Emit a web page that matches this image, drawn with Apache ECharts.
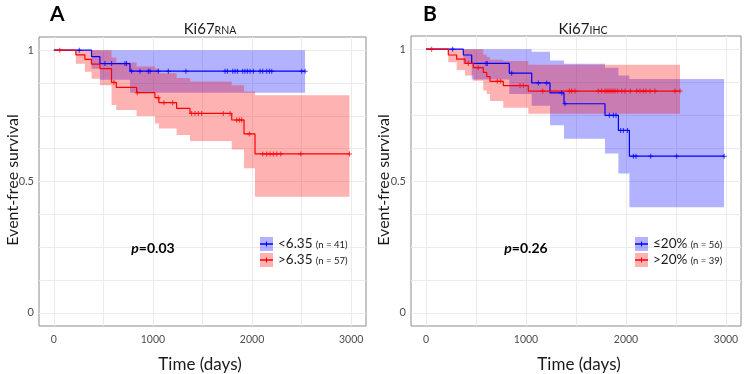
<!DOCTYPE html>
<html>
<head>
<meta charset="utf-8">
<script src="https://cdn.jsdelivr.net/npm/echarts@6/dist/echarts.min.js"></script>
<style>
html,body{margin:0;padding:0;background:#fff}
#chart{width:749px;height:374px}
</style>
</head>
<body>
<div id="chart"></div>
<script>
const FONT = 'Lato, "Liberation Sans", sans-serif';
const BLUE = '#0000ff', RED = '#ff0000';
const BLUE_BAND = 'rgba(0,0,255,0.3)', RED_BAND = 'rgba(255,0,0,0.3)';

// panel A - Ki67 RNA, <6.35 (n = 41)
const aLowTime  = [0, 380, 465, 768, 2535];
const aLowSurv  = [1, 0.975, 0.949, 0.920, 0.920];
const aLowLower = [1, 0.929, 0.887, 0.838, 0.838];
const aLowUpper = [1, 1, 1, 1, 1];
const aLowCensor = [256, 515, 583, 717, 734, 785, 869, 953, 970, 1054, 1155, 1333, 1727, 1751, 1805,
  1828, 1852, 1906, 1929, 1953, 1980, 2013, 2081, 2108, 2148, 2175, 2199, 2502, 2535];

// panel A - Ki67 RNA, >6.35 (n = 57)
const aHighTime  = [0, 222, 313, 380, 465, 582, 630, 835, 1020, 1060, 1239, 1374, 1795, 1919, 2030, 2983];
const aHighSurv  = [1, 0.982, 0.965, 0.947, 0.930, 0.877, 0.858, 0.838, 0.819, 0.800, 0.778, 0.759, 0.734, 0.681, 0.605, 0.605];
const aHighLower = [1, 0.948, 0.918, 0.891, 0.866, 0.791, 0.772, 0.749, 0.721, 0.702, 0.677, 0.654, 0.622, 0.550, 0.442, 0.442];
const aHighUpper = [1, 1, 1, 1, 1, 0.972, 0.953, 0.938, 0.930, 0.912, 0.894, 0.881, 0.866, 0.843, 0.828, 0.828];
const aHighCensor = [60, 606, 842, 1054, 1111, 1199, 1391, 1424, 1458, 1492, 1710, 1778, 1845, 1872, 1896,
  1973, 2108, 2148, 2182, 2215, 2249, 2290, 2492, 2983];

// panel B - Ki67 IHC, <=20% (n = 56)
const bLowTime  = [0, 373, 457, 833, 1057, 1240, 1380, 1790, 1924, 2034, 2981];
const bLowSurv  = [1, 0.978, 0.946, 0.909, 0.872, 0.834, 0.793, 0.749, 0.692, 0.594, 0.594];
const bLowLower = [1, 0.945, 0.885, 0.830, 0.785, 0.711, 0.660, 0.604, 0.528, 0.400, 0.400];
const bLowUpper = [1, 1, 1, 1, 0.99, 0.957, 0.945, 0.930, 0.900, 0.887, 0.887];
const bLowCensor = [267, 600, 613, 857, 1124, 1207, 1357, 1390, 1834, 1874, 1900, 1947, 1974, 2014,
  2074, 2100, 2247, 2507, 2981];

// panel B - Ki67 IHC, >20% (n = 39)
const bHighTime  = [0, 223, 307, 390, 473, 573, 607, 640, 773, 1023, 2540];
const bHighSurv  = [1, 0.978, 0.962, 0.946, 0.930, 0.912, 0.896, 0.878, 0.862, 0.841, 0.841];
const bHighLower = [1, 0.950, 0.921, 0.900, 0.880, 0.843, 0.830, 0.803, 0.778, 0.755, 0.755];
const bHighUpper = [1, 1, 1, 1, 1, 0.980, 0.970, 0.960, 0.955, 0.941, 0.941];
const bHighCensor = [57, 423, 523, 713, 747, 940, 973, 1167, 1433, 1457, 1490, 1723, 1757, 1790, 1810,
  1830, 1850, 1870, 1890, 1917, 1957, 1990, 2043, 2107, 2140, 2173, 2200, 2240, 2290, 2490, 2540];

const xTicks = [0, 1000, 2000, 3000];
const xGrid = [0, 500, 1000, 1500, 2000, 2500, 3000];
const yTicks = [0, 0.5, 1];
const yGrid = [0, 0.125, 0.25, 0.375, 0.5, 0.625, 0.75, 0.875, 1];

const PLUS = 'path://M2,0H3V2H5V3H3V5H2V3H0V2H2Z';

function survAt(times, surv, t) {
  let s = surv[0];
  for (let i = 0; i < times.length; i++) {
    if (times[i] <= t) s = surv[i];
  }
  return s;
}

// confidence band as one stepped polygon, drawn through the axis scales
function bandSeries(p, time, lower, upper, band) {
  return {
    type: 'custom', xAxisIndex: p, yAxisIndex: p, silent: true, z: 1, animation: false,
    data: time.map((t, i) => [t, lower[i], upper[i]]),
    encode: {x: 0, y: [1, 2]},
    renderItem: function (params, api) {
      if (params.dataIndex !== 0) return null;
      const top = [], bottom = [];
      for (let i = 0; i < time.length; i++) {
        const t1 = i + 1 < time.length ? time[i + 1] : time[i];
        top.push(api.coord([time[i], upper[i]]), api.coord([t1, upper[i]]));
        bottom.push(api.coord([time[i], lower[i]]), api.coord([t1, lower[i]]));
      }
      return {type: 'polygon', shape: {points: top.concat(bottom.reverse())}, style: {fill: band}};
    }
  };
}

function kmSeries(p, time, surv, censor, color) {
  const common = {xAxisIndex: p, yAxisIndex: p, silent: true, animation: false};
  return [
    Object.assign({
      type: 'line', step: 'end', symbol: 'none', z: 3,
      lineStyle: {color: color, width: 1.2},
      data: time.map((t, i) => [t, surv[i]])
    }, common),
    Object.assign({
      type: 'scatter', symbol: PLUS, symbolSize: 5, z: 4,
      itemStyle: {color: color},
      data: censor.map(t => [t, survAt(time, surv, t)])
    }, common)
  ];
}

const grids = [
  {left: 39, top: 37, width: 327, height: 289},
  {left: 411, top: 36, width: 330, height: 290}
];

function xAxis(i) {
  return {
    type: 'value', gridIndex: i, min: -150, max: 3150,
    axisLine: {show: false},
    axisTick: {show: false, customValues: xGrid},
    axisLabel: {customValues: xTicks, formatter: v => String(v), color: '#4d4d4d', fontSize: 10.5, margin: 8, fontFamily: FONT},
    splitLine: {show: true, lineStyle: {color: '#ebebeb', width: 1}}
  };
}
function yAxis(i) {
  return {
    type: 'value', gridIndex: i, min: -0.05, max: 1.05,
    axisLine: {show: false},
    axisTick: {show: false, customValues: yGrid},
    axisLabel: {customValues: yTicks, formatter: v => String(v), color: '#4d4d4d', fontSize: 11, margin: 5, fontFamily: FONT},
    splitLine: {show: true, lineStyle: {color: '#ebebeb', width: 1}}
  };
}

function legendRow(x, y, fill, color, label, n) {
  return [
    {type: 'rect', shape: {x: x, y: y, width: 13, height: 14}, style: {fill: fill}, z: 100},
    {type: 'line', shape: {x1: x, y1: y + 7, x2: x + 13, y2: y + 7}, style: {stroke: color, lineWidth: 1.5}, z: 101},
    {type: 'line', shape: {x1: x + 6.5, y1: y + 4.5, x2: x + 6.5, y2: y + 9.5}, style: {stroke: color, lineWidth: 1}, z: 101},
    {type: 'text', x: x + 18, y: y + 7, z: 101, style: {
      text: '{m|' + label + '} {s|' + n + '}', verticalAlign: 'middle', align: 'left', fill: '#1a1a1a',
      rich: {m: {fontSize: 13.5, fontFamily: FONT, verticalAlign: 'bottom'},
             s: {fontSize: 9.5, fontFamily: FONT, verticalAlign: 'bottom', padding: [0, 0, 1, 0]}}
    }}
  ];
}

function titleText(x, main, sub) {
  return {type: 'text', x: x, y: 37, z: 100, style: {
    text: '{a|' + main + '}{b|' + sub + '}', align: 'center', verticalAlign: 'bottom', fill: '#1a1a1a',
    rich: {a: {fontSize: 15, fontFamily: FONT, verticalAlign: 'bottom'},
           b: {fontSize: 10.5, fontFamily: FONT, verticalAlign: 'bottom', padding: [0, 0, 1, 0]}}
  }};
}

function pText(x, val) {
  return {type: 'text', x: x, y: 248, z: 100, style: {
    text: '{i|p}{b|=' + val + '}', align: 'center', verticalAlign: 'middle', fill: '#000',
    rich: {i: {fontSize: 14, fontFamily: FONT, fontWeight: 'bold', fontStyle: 'italic'},
           b: {fontSize: 14, fontFamily: FONT, fontWeight: 'bold'}}
  }};
}

function axisTitle(x, y, text, rotated) {
  return {type: 'text', x: x, y: y, z: 100, rotation: rotated ? Math.PI / 2 : 0, style: {
    text: text, fontSize: rotated ? 16 : 17, fontFamily: FONT, fill: '#1a1a1a',
    align: 'center', verticalAlign: 'middle'
  }};
}

const chart = echarts.init(document.getElementById('chart'), null, {renderer: 'canvas'});

const option = {
  animation: false,
  backgroundColor: '#fff',
  grid: grids.map(g => Object.assign({
    show: true, borderColor: '#8c8c8c', borderWidth: 1, backgroundColor: 'transparent',
    outerBoundsMode: 'none', containLabel: false
  }, g)),
  xAxis: [xAxis(0), xAxis(1)],
  yAxis: [yAxis(0), yAxis(1)],
  series: [].concat(
    [
      bandSeries(0, aLowTime, aLowLower, aLowUpper, BLUE_BAND),
      bandSeries(0, aHighTime, aHighLower, aHighUpper, RED_BAND),
      bandSeries(1, bLowTime, bLowLower, bLowUpper, BLUE_BAND),
      bandSeries(1, bHighTime, bHighLower, bHighUpper, RED_BAND)
    ],
    kmSeries(0, aLowTime, aLowSurv, aLowCensor, BLUE),
    kmSeries(0, aHighTime, aHighSurv, aHighCensor, RED),
    kmSeries(1, bLowTime, bLowSurv, bLowCensor, BLUE),
    kmSeries(1, bHighTime, bHighSurv, bHighCensor, RED)
  ),
  graphic: [].concat(
    [
      {type: 'text', x: 50, y: 4, z: 100, style: {text: 'A', fontSize: 21, fontWeight: 'bold', fontFamily: FONT, fill: '#000'}},
      {type: 'text', x: 423, y: 4, z: 100, style: {text: 'B', fontSize: 21, fontWeight: 'bold', fontFamily: FONT, fill: '#000'}},
      titleText(210, 'Ki67', 'RNA'),
      titleText(583, 'Ki67', 'IHC'),
      pText(153, '0.03'),
      pText(526, '0.26'),
      axisTitle(13, 180, 'Event-free survival', true),
      axisTitle(384, 180, 'Event-free survival', true),
      axisTitle(200, 365, 'Time (days)', false),
      axisTitle(579, 365, 'Time (days)', false)
    ],
    legendRow(260, 237, BLUE_BAND, BLUE, '<6.35', '(n = 41)'),
    legendRow(260, 253, RED_BAND, RED, '>6.35', '(n = 57)'),
    legendRow(635, 237, BLUE_BAND, BLUE, '≤20%', '(n = 56)'),
    legendRow(635, 253, RED_BAND, RED, '>20%', '(n = 39)')
  )
};

chart.setOption(option);
</script>
</body>
</html>
